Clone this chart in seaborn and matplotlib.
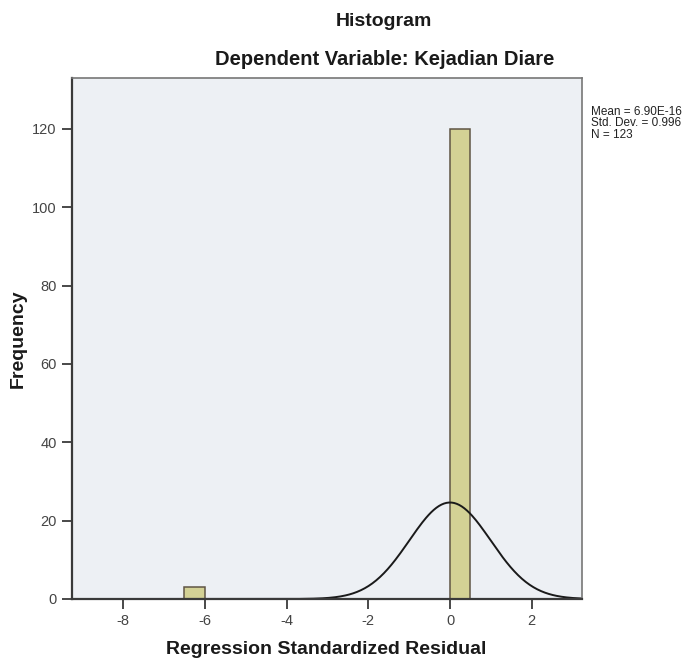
import numpy as np
import pandas as pd
import matplotlib
matplotlib.use("Agg")
import matplotlib.pyplot as plt
import seaborn as sns

# histogram bins (bin width 0.5) and counts
bin_edges = [-6.5, -6.0, -5.5, -5.0, -4.5, -4.0, -3.5, -3.0, -2.5, -2.0, -1.5, -1.0, -0.5, 0.0, 0.5]
counts = [3, 0, 0, 0, 0, 0, 0, 0, 0, 0, 0, 0, 0, 120]

# summary statistics shown on the right
mean_val = 6.90e-16
std_val = 0.996
n_val = 123

x_ticks = [-8, -6, -4, -2, 0, 2]
y_ticks = [0, 20, 40, 60, 80, 100, 120]

sns.set_style("white")
plt.rcParams["font.family"] = ["Liberation Sans", "DejaVu Sans"]

W, H = 697, 663
fig = plt.figure(figsize=(W / 100, H / 100), dpi=100)
left, right, top, bottom = 72, 582, 78, 599
ax = fig.add_axes([left / W, 1 - bottom / H, (right - left) / W, (bottom - top) / H])
ax.set_facecolor("#edf0f4")

centers = [(bin_edges[i] + bin_edges[i + 1]) / 2 for i in range(len(counts))]
df = pd.DataFrame({"resid": centers, "freq": counts})
sns.histplot(data=df, x="resid", weights="freq", bins=bin_edges, ax=ax,
             color="#d3d195", edgecolor="#5f5545", linewidth=1.1, alpha=1)

# normal curve scaled to counts
bw = 0.5
xs = np.linspace(-9.25, 3.23, 400)
ys = n_val * bw / (std_val * np.sqrt(2 * np.pi)) * np.exp(-0.5 * ((xs - mean_val) / std_val) ** 2)
sns.lineplot(x=xs, y=ys, ax=ax, color="#1a1a1a", linewidth=1.4)

ax.set_xlim(-9.25, 3.23)
ax.set_ylim(0, 133)
ax.set_xticks(x_ticks)
ax.set_xticklabels([str(t) for t in x_ticks])
ax.set_yticks(y_ticks)
ax.tick_params(axis="both", direction="out", length=7, width=1.3, color="#3a3a3a",
               labelsize=10.5, labelcolor="#444444", bottom=True, left=True, pad=4)
for side in ["top", "right"]:
    ax.spines[side].set_color("#777777")
    ax.spines[side].set_linewidth(1.2)
for side in ["left", "bottom"]:
    ax.spines[side].set_color("#3a3a3a")
    ax.spines[side].set_linewidth(1.6)

ax.set_xlabel("Regression Standardized Residual", fontsize=14, fontweight="bold",
              color="#1a1a1a", va="center")
ax.xaxis.set_label_coords((326 - left) / (right - left), -(650 - bottom) / (bottom - top))
ax.set_ylabel("Frequency", fontsize=14, fontweight="bold", color="#1a1a1a", va="center")
ax.yaxis.set_label_coords(-(left - 18) / (right - left), 0.5)

fig.text(384 / W, 1 - 26 / H, "Histogram", ha="center", va="baseline",
         fontsize=14, fontweight="bold", color="#1a1a1a")
fig.text(385 / W, 1 - 65 / H, "Dependent Variable: Kejadian Diare", ha="center",
         va="baseline", fontsize=14.5, fontweight="bold", color="#1a1a1a")

stats_lines = [f"Mean = {mean_val:.2E}", f"Std. Dev. = {std_val}", f"N = {n_val}"]
for i, line in enumerate(stats_lines):
    fig.text(591 / W, 1 - (112 + 11.5 * i) / H, line, ha="left", va="center",
             fontsize=8.5, color="#222222")

fig.savefig("out.png", dpi=100)
